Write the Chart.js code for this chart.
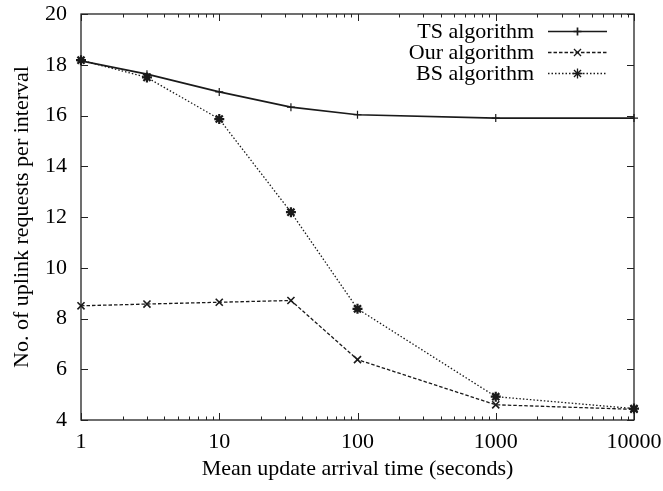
<!DOCTYPE html>
<html>
<head>
<meta charset="utf-8">
<title>Uplink requests vs. mean update arrival time</title>
<script src="https://cdn.jsdelivr.net/npm/chart.js@4.4.1/dist/chart.umd.min.js"></script>
<style>
  html, body { margin: 0; padding: 0; background: #ffffff; }
  #wrap { width: 663px; height: 491px; }
</style>
</head>
<body>
<div id="wrap"><canvas id="chart" width="663" height="491"></canvas></div>
<script>
// Mean update arrival time (seconds) at which each algorithm was measured
const arrivalTimes = [1, 3, 10, 33, 100, 1000, 10000];

// Number of uplink requests per interval
const tsRequests  = [18.15, 17.63, 16.93, 16.33, 16.03, 15.90, 15.90];
const ourRequests = [8.50, 8.57, 8.64, 8.71, 6.38, 4.60, 4.42];
const bsRequests  = [18.18, 17.50, 15.86, 12.19, 8.38, 4.92, 4.45];

const seriesNames = ['TS algorithm', 'Our algorithm', 'BS algorithm'];

// Axis ticks
const xTickValues = [1, 10, 100, 1000, 10000];
const yTickValues = [4, 6, 8, 10, 12, 14, 16, 18, 20];

const FONT = "'Liberation Serif', 'Times New Roman', serif";
const FONT_SIZE = 22;
const INK = '#1a1a1a';

function toPoints(values) {
  return arrivalTimes.map((t, i) => ({ x: t, y: values[i] }));
}

// Frame with inward major/minor tick marks on all four sides (gnuplot style)
const frameAndTicks = {
  id: 'frameAndTicks',
  beforeDatasetsDraw(chart) {
    const { ctx, chartArea: a, scales } = chart;
    const xs = scales.x, ys = scales.y;
    ctx.save();
    ctx.strokeStyle = '#222';
    ctx.lineWidth = 1.3;
    ctx.strokeRect(a.left, a.top, a.right - a.left, a.bottom - a.top);

    ctx.lineWidth = 1;
    ctx.beginPath();
    yTickValues.forEach(v => {
      const y = Math.round(ys.getPixelForValue(v)) + 0.5;
      ctx.moveTo(a.left, y); ctx.lineTo(a.left + 7, y);
      ctx.moveTo(a.right, y); ctx.lineTo(a.right - 7, y);
    });
    xTickValues.forEach(v => {
      const x = Math.round(xs.getPixelForValue(v)) + 0.5;
      ctx.moveTo(x, a.bottom); ctx.lineTo(x, a.bottom - 7);
      ctx.moveTo(x, a.top); ctx.lineTo(x, a.top + 7);
    });
    for (let d = 0; d < xTickValues.length - 1; d++) {
      for (let k = 2; k <= 9; k++) {
        const x = Math.round(xs.getPixelForValue(k * xTickValues[d])) + 0.5;
        ctx.moveTo(x, a.bottom); ctx.lineTo(x, a.bottom - 3.5);
        ctx.moveTo(x, a.top); ctx.lineTo(x, a.top + 3.5);
      }
    }
    ctx.stroke();
    ctx.restore();
  }
};

// Key in the upper right: right-aligned name followed by a line sample
const keyBox = {
  id: 'keyBox',
  afterDraw(chart) {
    const { ctx, chartArea: a } = chart;
    const textRight = a.right - 100;
    const sampleStart = a.right - 86;
    const sampleEnd = a.right - 27;
    const firstRow = a.top + 17.5;
    const rowStep = 21;
    ctx.save();
    chart.data.datasets.forEach((ds, i) => {
      const y = firstRow + i * rowStep;
      ctx.fillStyle = '#000';
      ctx.font = FONT_SIZE + 'px ' + FONT;
      ctx.textAlign = 'right';
      ctx.textBaseline = 'middle';
      ctx.fillText(ds.label, textRight, y + 1);

      ctx.strokeStyle = ds.borderColor;
      ctx.lineWidth = ds.borderWidth;
      ctx.setLineDash(ds.borderDash || []);
      ctx.beginPath();
      ctx.moveTo(sampleStart, y);
      ctx.lineTo(sampleEnd, y);
      ctx.stroke();
      ctx.setLineDash([]);

      ctx.strokeStyle = ds.pointBorderColor;
      ctx.fillStyle = ds.pointBackgroundColor;
      Chart.helpers.drawPoint(ctx, {
        pointStyle: ds.pointStyle,
        radius: ds.pointRadius,
        borderWidth: ds.pointBorderWidth,
        rotation: 0
      }, (sampleStart + sampleEnd) / 2, y);
    });
    ctx.restore();
  }
};

const datasets = [
  {
    label: seriesNames[0],
    data: toPoints(tsRequests),
    borderColor: INK,
    borderWidth: 1.7,
    borderDash: [],
    pointStyle: 'cross',
    pointRadius: 4,
    pointBorderWidth: 1.2,
    pointBorderColor: INK
  },
  {
    label: seriesNames[1],
    data: toPoints(ourRequests),
    borderColor: INK,
    borderWidth: 1.3,
    borderDash: [3.5, 2],
    pointStyle: 'crossRot',
    pointRadius: 5,
    pointBorderWidth: 1.6,
    pointBorderColor: INK
  },
  {
    label: seriesNames[2],
    data: toPoints(bsRequests),
    borderColor: INK,
    borderWidth: 1.3,
    borderDash: [1.5, 2],
    pointStyle: 'star',
    pointRadius: 5,
    pointBorderWidth: 2.2,
    pointBorderColor: INK
  }
].map(ds => Object.assign(ds, {
  showLine: true,
  fill: false,
  tension: 0,
  clip: false,
  pointBackgroundColor: INK,
  pointHoverRadius: ds.pointRadius
}));

new Chart(document.getElementById('chart'), {
  type: 'scatter',
  data: { datasets },
  plugins: [frameAndTicks, keyBox],
  options: {
    responsive: false,
    animation: false,
    devicePixelRatio: 1,
    layout: { padding: { top: 14, right: 29, left: 0, bottom: 0 } },
    plugins: {
      legend: { display: false },
      tooltip: { enabled: false }
    },
    scales: {
      x: {
        type: 'logarithmic',
        min: 1,
        max: 10000,
        afterBuildTicks: scale => { scale.ticks = xTickValues.map(v => ({ value: v })); },
        afterFit: scale => {
          scale.height = 71;
          scale.paddingLeft = 0;
          scale.paddingRight = 0;
        },
        grid: { display: false, drawTicks: false },
        border: { display: false },
        ticks: {
          autoSkip: false,
          maxRotation: 0,
          padding: 9,
          color: '#000',
          font: { family: FONT, size: FONT_SIZE },
          callback: v => String(v)
        },
        title: {
          display: true,
          text: 'Mean update arrival time (seconds)',
          color: '#000',
          font: { family: FONT, size: FONT_SIZE, lineHeight: 1.2 },
          padding: { top: 0, bottom: 9 }
        }
      },
      y: {
        type: 'linear',
        min: 4,
        max: 20,
        afterBuildTicks: scale => { scale.ticks = yTickValues.map(v => ({ value: v })); },
        afterFit: scale => {
          scale.width = 81;
          scale.paddingTop = 0;
          scale.paddingBottom = 0;
        },
        grid: { display: false, drawTicks: false },
        border: { display: false },
        ticks: {
          padding: 14,
          color: '#000',
          font: { family: FONT, size: FONT_SIZE },
          callback: v => String(v)
        },
        title: {
          display: true,
          text: 'No. of uplink requests per interval',
          color: '#000',
          font: { family: FONT, size: FONT_SIZE, lineHeight: 1.2 },
          padding: { top: 9, bottom: 0 }
        }
      }
    }
  }
});
</script>
</body>
</html>
